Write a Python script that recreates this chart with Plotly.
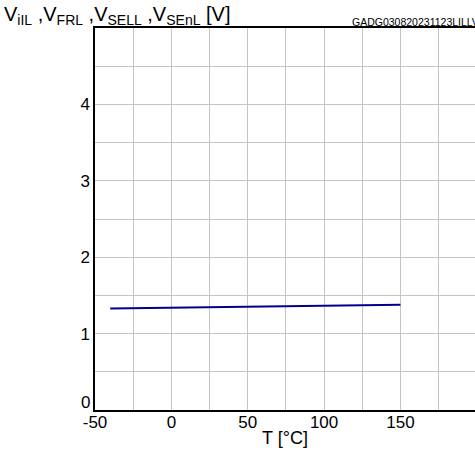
import plotly.graph_objects as go

# Threshold voltage vs. junction temperature
temperature_c = [-40, 0, 25, 50, 100, 125, 150]
threshold_v = [1.33, 1.34, 1.35, 1.355, 1.365, 1.37, 1.377]

x_tick_vals = [-50, 0, 50, 100, 150]
x_tick_text = ["-50", "0", "50", "100", "150"]
y_tick_vals = [1, 2, 3, 4]

y_title = "V<sub>iIL</sub> ,V<sub>FRL</sub> ,V<sub>SELL</sub> ,V<sub>SEnL</sub> [V]"
x_title = "T [°C]"
doc_code = "GADG030820231123LILLV"

FONT = "Liberation Sans, Arial, sans-serif"
GRID = "#c4c4c4"

fig = go.Figure()
fig.add_trace(go.Scatter(
    x=temperature_c, y=threshold_v, mode="lines",
    line=dict(color="#00008b", width=2), showlegend=False,
))

fig.update_layout(
    width=475, height=452,
    margin=dict(l=95, r=0, t=28, b=42),
    paper_bgcolor="white", plot_bgcolor="white",
    font=dict(family=FONT, size=17, color="black"),
    xaxis=dict(
        range=[-50, 198.8], tickvals=x_tick_vals, ticktext=x_tick_text,
        ticks="", showgrid=True, gridcolor=GRID, gridwidth=1,
        minor=dict(dtick=25, showgrid=True, gridcolor=GRID, gridwidth=1),
        showline=True, linecolor="black", linewidth=1.5, mirror=True,
        zeroline=False, tickfont=dict(size=17), ticklabelstandoff=-4,
        title=dict(text=x_title, font=dict(size=18), standoff=0),
    ),
    yaxis=dict(
        range=[0, 5], tickvals=y_tick_vals,
        ticks="", showgrid=True, gridcolor=GRID, gridwidth=1,
        minor=dict(dtick=0.5, showgrid=True, gridcolor=GRID, gridwidth=1),
        showline=True, linecolor="black", linewidth=1.5,
        zeroline=False, tickfont=dict(size=17),
    ),
)

# "0" label on the y axis sits just above the x axis line
fig.add_annotation(
    x=0, xref="paper", y=0, yref="y", text="0", showarrow=False,
    xanchor="right", yanchor="bottom", xshift=-3, yshift=-4,
    font=dict(size=17),
)
# y axis title, placed above the plot area at the top left
fig.add_annotation(
    x=-0.245, xref="paper", y=1, yref="paper", text=y_title,
    showarrow=False, xanchor="left", yanchor="bottom", yshift=-2,
    font=dict(size=20),
)
# document code at top right
fig.add_annotation(
    x=0.672, xref="paper", y=1, yref="paper", text=doc_code,
    showarrow=False, xanchor="left", yanchor="bottom", yshift=-2,
    font=dict(size=10.5),
)

fig.write_html("out.html")
